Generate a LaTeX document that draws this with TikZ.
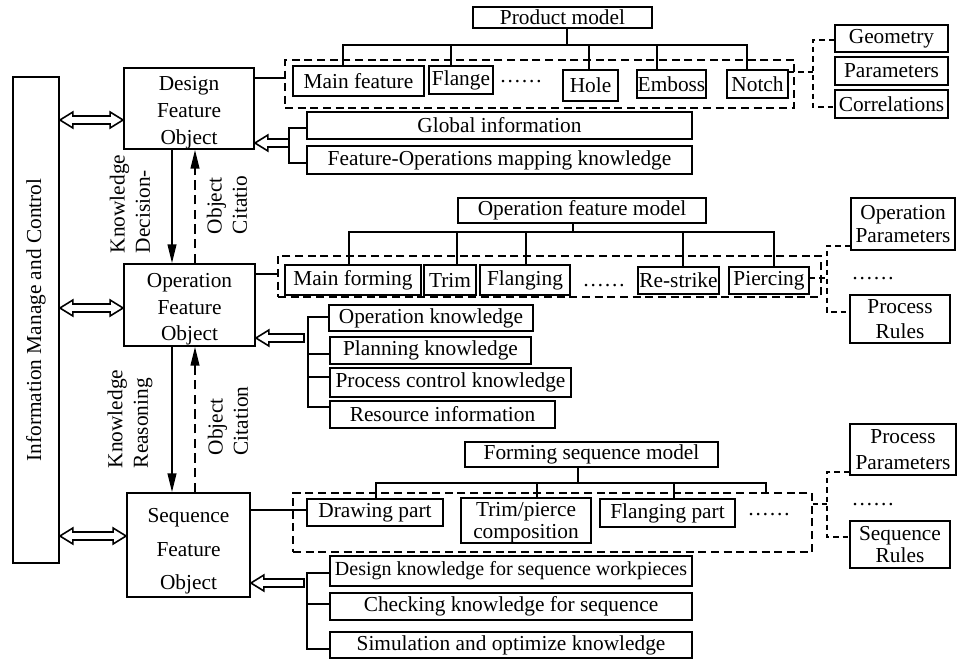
\documentclass[tikz,border=0pt]{standalone}
\usepackage{fontspec}
\setmainfont{Liberation Serif}
\usetikzlibrary{arrows.meta,calc}

% box from corner (x1,y1) to corner (x2,y2), one unit = 0.75pt
\newcommand\mkbox[7][]{%
  \node[box,minimum width={(#5-#3)*0.75pt},minimum height={(#6-#4)*0.75pt},#1]
    (#2) at ({(#3+#5)/2},{(#4+#6)/2}) {#7};}
% strut that pushes a stacked label a little lower in its box
\newcommand\topstrut[1]{\rule{0pt}{#1}}

\tikzset{
  every node/.style={font=\fontsize{16}{19}\selectfont},
  box/.style={draw,line width=1.4pt,inner sep=0pt,align=center},
  group/.style={draw,line width=1.4pt,dash pattern=on 6pt off 3.5pt},
  link/.style={line width=1.4pt},
  brk/.style={line width=1.1pt,dash pattern=on 4pt off 3pt},
  flow/.style={line width=1.3pt,-{Triangle[length=14pt,width=6.5pt]}},
  cite/.style={flow,dash pattern=on 7pt off 4pt},
  vlabel/.style={rotate=90,align=left,inner sep=0pt,font=\fontsize{16}{19}\selectfont},
  % hollow arrow pointing left, tip at the target's x
  hollowleft/.style={line width=1.2pt,fill=white,to path={
    let \p1=(\tikztostart),\p2=(\tikztotarget) in
    (\x1,\y1+3pt) -- (\x2+9.75pt,\y1+3pt) -- (\x2+9.75pt,\y1+6pt) -- (\x2,\y1)
    -- (\x2+9.75pt,\y1-6pt) -- (\x2+9.75pt,\y1-3pt) -- (\x1,\y1-3pt) -- cycle}},
  % hollow arrow with a tip at both ends
  hollowboth/.style={line width=1.2pt,fill=white,to path={
    let \p1=(\tikztostart),\p2=(\tikztotarget) in
    (\x1,\y1) -- (\x1+9.75pt,\y1+6pt) -- (\x1+9.75pt,\y1+3pt) -- (\x2-9.75pt,\y1+3pt)
    -- (\x2-9.75pt,\y1+6pt) -- (\x2,\y1) -- (\x2-9.75pt,\y1-6pt) -- (\x2-9.75pt,\y1-3pt)
    -- (\x1+9.75pt,\y1-3pt) -- (\x1+9.75pt,\y1-6pt) -- cycle}}
}

\begin{document}
\begin{tikzpicture}[x=0.75pt,y=-0.75pt]
\useasboundingbox (0,0) rectangle (965,660);

% ---------- control column and feature objects ----------
\node[box,rotate=90,minimum width=486*0.75pt,minimum height=46*0.75pt] (imc) at (36,320)
  {Information Manage and Control};

\mkbox[font=\fontsize{16}{20}\selectfont]{dfo}{124}{68}{254}{149}{\topstrut{17pt}Design\\Feature\\Object}
\mkbox[font=\fontsize{16}{20}\selectfont]{ofo}{124}{264}{255}{346}{\topstrut{17pt}Operation\\Feature\\Object}
\mkbox[font=\fontsize{16}{25}\selectfont]{sfo}{127}{493}{250}{597}{\topstrut{20pt}Sequence\\Feature\\Object}

\draw[hollowboth] (imc.south |- 0,120) to (dfo.west);
\draw[hollowboth] (imc.south |- 0,308) to (ofo.west);
\draw[hollowboth] (imc.south |- 0,536) to (sfo.west);

\coordinate (kx) at (172,0);
\coordinate (cx) at (195,0);
\draw[flow] (kx |- dfo.south) -- (kx |- ofo.north);
\draw[cite] (cx |- ofo.north) -- (cx |- dfo.south);
\draw[flow] (kx |- ofo.south) -- (kx |- sfo.north);
\draw[cite] (cx |- sfo.north) -- (cx |- ofo.south);

\node[vlabel] (kd)  at (130,204) {Knowledge\\Decision-};
\node[vlabel] (oc1) at (227,205) {Object\\Citatio};
\node[vlabel] (kr)  at (130,419) {Knowledge\\Reasoning};
\node[vlabel] (oc2) at (228,421) {Object\\Citation};

% ---------- product model ----------
\mkbox{pm}{473}{7}{652}{28}{Product model}
\mkbox[group]{g1}{285}{60}{794}{108}{}
\mkbox{mf}{293}{66}{424}{96}{Main feature}
\mkbox{fl}{429}{66}{493}{94}{Flange}
\node (dots1) at (521,82) {……};
\mkbox{ho}{563}{70}{618}{101}{Hole}
\mkbox{em}{637}{70}{706}{98}{Emboss}
\mkbox{no}{727}{70}{788}{98}{Notch}

\coordinate (t1) at (567,45);
\coordinate (b1l) at (343,45);
\coordinate (b1r) at (747,45);
\draw[link] (t1 |- pm.south) -- (t1);
\draw[link] (b1l |- mf.north) -- (b1l) -- (b1r) -- (b1r |- no.north);
\foreach \x/\n in {451/fl,589/ho,657/em}
  \draw[link] (\x,45) -- (\x,0 |- \n.north);

\draw[link] (dfo.east |- 0,78) -- (g1.west |- 0,78);

\mkbox{geo}{835}{25}{948}{52}{Geometry}
\mkbox{par}{835}{57}{948}{85}{Parameters}
\mkbox{cor}{835}{90}{948}{118}{Correlations}
\coordinate (r1t) at (813,40);
\coordinate (r1b) at (813,107);
\coordinate (r1m) at (813,72);
\draw[brk] (geo.west |- r1t) -- (r1t) -- (r1b) -- (cor.west |- r1b);
\draw[brk] (no.east |- r1m) -- (r1m);

\mkbox{gi}{307}{112}{692}{139}{Global information}
\mkbox{fom}{307}{146}{692}{174}{Feature-Operations mapping knowledge}
\coordinate (k1t) at (289,128);
\coordinate (k1b) at (289,163);
\coordinate (k1a) at (289,143);
\draw[link] (gi.west |- k1t) -- (k1t) -- (k1b) -- (fom.west |- k1b);
\draw[hollowleft] (k1a) to (dfo.east);

% ---------- operation feature model ----------
\mkbox{ofm}{458}{198}{706}{223}{Operation feature model}
\mkbox[group]{g2}{278}{256}{821}{297}{}
\mkbox{mfo}{285}{265}{421}{295}{Main forming}
\mkbox{tr}{424}{265}{476}{295}{Trim}
\mkbox{fg}{480}{265}{570}{295}{Flanging}
\node (dots2) at (604,286) {……};
\mkbox{rs}{638}{267}{719}{294}{Re-strike}
\mkbox{pc}{729}{267}{809}{294}{Piercing}

\coordinate (t2) at (573,232);
\coordinate (b2l) at (349,232);
\coordinate (b2r) at (774,232);
\draw[link] (t2 |- ofm.south) -- (t2);
\draw[link] (b2l |- mfo.north) -- (b2l) -- (b2r) -- (b2r |- pc.north);
\foreach \x/\n in {457/tr,526/fg,683/rs}
  \draw[link] (\x,232) -- (\x,0 |- \n.north);

\draw[link] (ofo.east |- 0,274) -- (g2.west |- 0,274);

\mkbox[font=\fontsize{16}{17}\selectfont]{opp}{851}{198}{955}{250}{Operation\\Parameters}
\node (dots3) at (873,279) {……};
\mkbox[font=\fontsize{16}{19}\selectfont]{prr}{850}{295}{950}{343}{Process\\Rules}
\coordinate (r2t) at (827,246);
\coordinate (r2b) at (827,312);
\coordinate (r2m) at (827,278);
\draw[brk] (opp.west |- r2t) -- (r2t) -- (r2b) -- (prr.west |- r2b);
\draw[brk] (pc.east |- r2m) -- (r2m);

\mkbox{ok}{329}{305}{533}{331}{Operation knowledge}
\mkbox{pk}{330}{337}{531}{364}{Planning knowledge}
\mkbox{pck}{330}{368}{571}{397}{Process control knowledge}
\mkbox{ri}{330}{401}{555}{428}{Resource information}
\coordinate (k2t) at (308,317);
\coordinate (k2b) at (308,407);
\coordinate (k2a) at (304,338);
\draw[link] (ok.west |- k2t) -- (k2t) -- (k2b) -- (ri.west |- k2b);
\draw[link] (pk.west |- 0,354) -- (k2t |- 0,354);
\draw[link] (pck.west |- 0,377) -- (k2t |- 0,377);
\draw[hollowleft] (k2a) to (ofo.east);

% ---------- forming sequence model ----------
\mkbox{fsm}{465}{442}{718}{467}{Forming sequence model}
\mkbox[group]{g3}{293}{493}{812}{552}{}
\mkbox{dp}{307}{499}{443}{526}{Drawing part}
\mkbox[font=\fontsize{16}{16}\selectfont]{tpc}{461}{499}{591}{542}{\topstrut{14pt}Trim/pierce\\composition}
\mkbox{fp}{600}{499}{735}{527}{Flanging part}
\node (dots4) at (769,515) {……};

\coordinate (t3) at (578,483);
\coordinate (b3l) at (376,483);
\coordinate (b3r) at (766,483);
\draw[link] (t3 |- fsm.south) -- (t3);
\draw[link] (b3l |- dp.north) -- (b3l) -- (b3r) -- (b3r |- g3.north);
\foreach \x/\n in {537/tpc,674/fp}
  \draw[link] (\x,483) -- (\x,0 |- \n.north);

\draw[link] (sfo.east |- 0,510) -- (dp.west |- 0,510);

\mkbox[font=\fontsize{16}{19}\selectfont]{ppa}{850}{424}{956}{475}{Process\\Parameters}
\node (dots5) at (873,505) {……};
\mkbox[font=\fontsize{16}{17}\selectfont]{sr}{850}{521}{950}{568}{Sequence\\Rules}
\coordinate (r3t) at (827,472);
\coordinate (r3b) at (827,537);
\coordinate (r3m) at (827,504);
\draw[brk] (ppa.west |- r3t) -- (r3t) -- (r3b) -- (sr.west |- r3b);
\draw[brk] (g3.east |- r3m) -- (r3m);

\mkbox[font=\fontsize{15}{18}\selectfont]{dks}{330}{556}{692}{586}{Design knowledge for sequence workpieces}
\mkbox{cks}{330}{593}{692}{620}{Checking knowledge for sequence}
\mkbox{sok}{330}{632}{692}{658}{Simulation and optimize knowledge}
\coordinate (k3t) at (307,573);
\coordinate (k3b) at (307,649);
\coordinate (k3a) at (304,583);
\draw[link] (dks.west |- k3t) -- (k3t) -- (k3b) -- (sok.west |- k3b);
\draw[link] (cks.west |- 0,604) -- (k3t |- 0,604);
\draw[hollowleft] (k3a) to (sfo.east);

\end{tikzpicture}
\end{document}
